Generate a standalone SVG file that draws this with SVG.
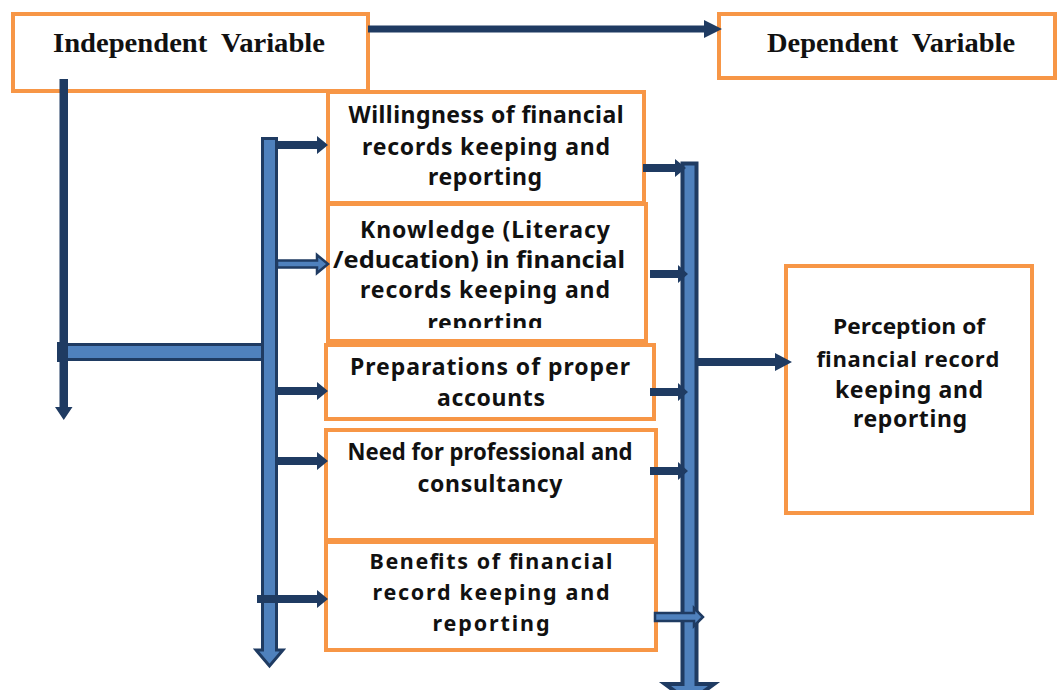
<svg xmlns="http://www.w3.org/2000/svg" width="1060" height="690" viewBox="0 0 1060 690">
  <defs>
    <style>
      .box { fill: #ffffff; stroke: #f79646; stroke-width: 4; }
      .hdr { font-family: "Liberation Serif", "Times New Roman", serif; font-weight: 700; font-size: 28px; fill: #111; text-anchor: middle; }
      .t { font-family: "Noto Sans", "Open Sans", sans-serif; font-weight: 700; font-size: 23px; fill: #111; text-anchor: middle; }
      .s { font-size: 21.5px; }
      .p { font-family: "Open Sans", "Noto Sans", sans-serif; font-weight: 700; font-size: 22px; fill: #111; text-anchor: middle; }
      .dk { fill: #1f3b62; }
      .lt { fill: #4f81bd; stroke: #1f3b62; stroke-width: 3; }
      .lto { fill: #4f81bd; stroke: #1f3b62; stroke-width: 2.5; }
    </style>
    <clipPath id="clipK"><rect x="328" y="204" width="318" height="124"/></clipPath>
  </defs>
  <rect width="1060" height="690" fill="#ffffff"/>

  <g id="node-independent">
    <rect class="box" x="13" y="14" width="355" height="77"/>
    <text class="hdr" x="189" y="52" textLength="272" lengthAdjust="spacingAndGlyphs" xml:space="preserve">Independent  Variable</text>
  </g>
  <g id="node-dependent">
    <rect class="box" x="719" y="14" width="336" height="64"/>
    <text class="hdr" x="891" y="52" textLength="248" lengthAdjust="spacingAndGlyphs" xml:space="preserve">Dependent  Variable</text>
  </g>
  <g id="node-willingness">
    <rect class="box" x="328" y="92" width="316" height="111"/>
    <text class="t" x="486" y="123" textLength="275" lengthAdjust="spacing">Willingness of financial</text>
    <text class="t" x="486" y="155" textLength="248" lengthAdjust="spacing">records keeping and</text>
    <text class="t" x="485" y="185" textLength="114" lengthAdjust="spacing">reporting</text>
  </g>
  <g id="node-knowledge">
    <rect class="box" x="328" y="204" width="318" height="137"/>
    <g clip-path="url(#clipK)">
      <text class="t" x="485" y="238" textLength="250" lengthAdjust="spacing">Knowledge (Literacy</text>
      <text class="t" x="479" y="268" textLength="292" lengthAdjust="spacingAndGlyphs">/education) in financial</text>
      <text class="t" x="485" y="298" textLength="250" lengthAdjust="spacing">records keeping and</text>
      <text class="t" x="485" y="331" textLength="115" lengthAdjust="spacing">reporting</text>
    </g>
  </g>
  <g id="node-preparations">
    <rect class="box" x="326" y="345" width="328" height="74"/>
    <text class="t" x="490" y="375" textLength="280" lengthAdjust="spacing">Preparations of proper</text>
    <text class="t" x="491" y="406" textLength="108" lengthAdjust="spacing">accounts</text>
  </g>
  <g id="node-need">
    <rect class="box" x="326" y="430" width="330" height="110"/>
    <text class="t" x="490" y="460" textLength="285" lengthAdjust="spacingAndGlyphs">Need for professional and</text>
    <text class="t" x="490" y="492" textLength="145" lengthAdjust="spacing">consultancy</text>
  </g>
  <g id="node-benefits">
    <rect class="box" x="326" y="542" width="330" height="108"/>
    <text class="t s" x="491" y="569" textLength="243" lengthAdjust="spacing">Benefits of financial</text>
    <text class="t s" x="491" y="600" textLength="237" lengthAdjust="spacing">record keeping and</text>
    <text class="t s" x="491" y="631" textLength="117" lengthAdjust="spacing">reporting</text>
  </g>
  <g id="node-perception">
    <rect class="box" x="786" y="266" width="246" height="247"/>
    <text class="p" x="909" y="334" textLength="152" lengthAdjust="spacingAndGlyphs">Perception of</text>
    <text class="p" x="908" y="367" textLength="183" lengthAdjust="spacing">financial record</text>
    <text class="t" x="909" y="398" textLength="148" lengthAdjust="spacing">keeping and</text>
    <text class="t" x="910" y="427" textLength="114" lengthAdjust="spacing">reporting</text>
  </g>

  <g id="connectors">
    <path class="dk" d="M368,25.5 H704 V20 L722,29 L704,38 V32.5 H368 Z"/>
    <path class="dk" d="M59.5,79 H68 V407 H72.5 L63.75,420 L55,407 H59.5 Z"/>
    <path class="lt" d="M60,344.5 H263 Q270,352 263,359.5 H60 Z"/>
    <rect class="dk" x="57" y="342" width="11" height="20"/>
    <path class="lt" d="M262.5,138.5 H276.5 V650 H283 L269.5,666 L256,650 H262.5 Z"/>
    <path class="dk" d="M277,141 H317 V136 L328,145 L317,154 V149 H277 Z"/>
    <path class="lto" d="M277,260.5 H317 V255 L328,264 L317,273 V267.5 H277 Z"/>
    <path class="dk" d="M277,387 H317 V382 L328,391 L317,400 V395 H277 Z"/>
    <path class="dk" d="M277,457 H317 V452 L328,461 L317,470 V465 H277 Z"/>
    <path class="dk" d="M257,595 H317 V590 L328,599 L317,608 V603 H257 Z"/>
    <path class="lt" style="stroke-width:4" d="M682.5,163.5 H696.5 V684 H714 L689.5,702 L665,684 H682.5 Z"/>
    <path class="dk" d="M643,164 H675 V159 L686,168 L675,177 V172 H643 Z"/>
    <path class="dk" d="M650,270 H678 V265 L688,274 L678,283 V278 H650 Z"/>
    <path class="dk" d="M650,388 H678 V383 L688,392 L678,401 V396 H650 Z"/>
    <path class="dk" d="M650,467 H678 V462 L688,471 L678,480 V475 H650 Z"/>
    <path class="lto" d="M655,613 H694 V608 L703,617 L694,626 V621 H655 Z"/>
    <path class="dk" d="M697,358 H775 V353 L792,362 L775,371 V366 H697 Z"/>
  </g>
</svg>
